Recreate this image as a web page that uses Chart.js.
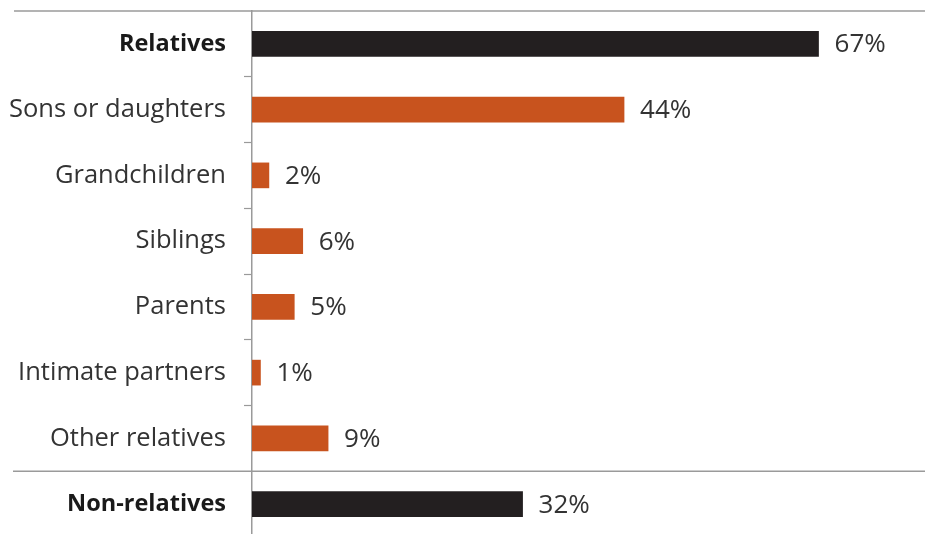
<!DOCTYPE html>
<html>
<head>
<meta charset="utf-8">
<script src="https://cdn.jsdelivr.net/npm/chart.js@4"></script>
<style>
  html,body{margin:0;padding:0;background:#fff;overflow:hidden}
  #wrap{position:relative;width:925px;height:537px}
</style>
</head>
<body>
<div id="wrap"><canvas id="chart"></canvas></div>
<script>
// who the people are, share of total
const categories = ['Relatives','Sons or daughters','Grandchildren','Siblings','Parents','Intimate partners','Other relatives','Non-relatives']
const shares = [67,44,2,6,5,1,9,32]
const summaryRows = [0,7]   // the two total rows, drawn bold and in black

const BLACK = '#231f20'
const ORANGE = '#c8531e'
const TEXT = '#333333'
const RULE = '#9a9a9a'
const FONT = "'Open Sans', sans-serif"

// value labels at the end of each bar + the horizontal rules
const extras = {
  id: 'extras',
  afterDatasetsDraw(chart){
    const ctx = chart.ctx
    const meta = chart.getDatasetMeta(0)
    ctx.save()
    ctx.fillStyle = TEXT
    ctx.font = '26px ' + FONT
    ctx.textAlign = 'left'
    ctx.textBaseline = 'middle'
    meta.data.forEach((bar, i) => {
      ctx.fillText(shares[i] + '%', bar.x + 16, bar.y + 1)
    })
    ctx.restore()
  },
  afterDraw(chart){
    const ctx = chart.ctx
    const y = chart.scales.y
    const top = chart.chartArea.top
    const sep = (y.getPixelForValue(6) + y.getPixelForValue(7)) / 2
    ctx.save()
    ctx.strokeStyle = RULE
    ctx.lineWidth = 1.5
    ctx.beginPath()
    ctx.moveTo(14, top); ctx.lineTo(chart.width, top)
    ctx.moveTo(13, sep); ctx.lineTo(chart.width, sep)
    ctx.stroke()
    ctx.restore()
  }
}

new Chart('chart', {
  type: 'bar',
  data: {
    labels: categories,
    datasets: [{
      data: shares,
      backgroundColor: shares.map((v, i) => summaryRows.includes(i) ? BLACK : ORANGE),
      barThickness: 25,
      borderWidth: 0
    }]
  },
  options: {
    indexAxis: 'y',
    responsive: true,
    maintainAspectRatio: false,
    animation: false,
    layout: { padding: { top: 11, right: 5, left: 0, bottom: 0 } },
    plugins: { legend: { display: false }, tooltip: { enabled: false } },
    scales: {
      x: { display: false, min: 0, max: 79 },
      y: {
        afterFit(scale){
          scale.width = 252
          scale.paddingTop = 0
          scale.paddingBottom = 0
        },
        border: { display: true, color: RULE, width: 1.5 },
        grid: {
          drawOnChartArea: false,
          tickLength: 8,
          tickWidth: 1.2,
          tickColor: ctx => (ctx.index === 0 || ctx.index === 7) ? 'rgba(0,0,0,0)' : RULE
        },
        ticks: {
          padding: 18,
          color: ctx => summaryRows.includes(ctx.index) ? '#1a1a1a' : TEXT,
          font: ctx => summaryRows.includes(ctx.index)
            ? { family: FONT, size: 23.5, weight: 'bold' }
            : { family: FONT, size: 25.5, weight: 'normal' }
        }
      }
    }
  },
  plugins: [extras]
})
</script>
</body>
</html>
